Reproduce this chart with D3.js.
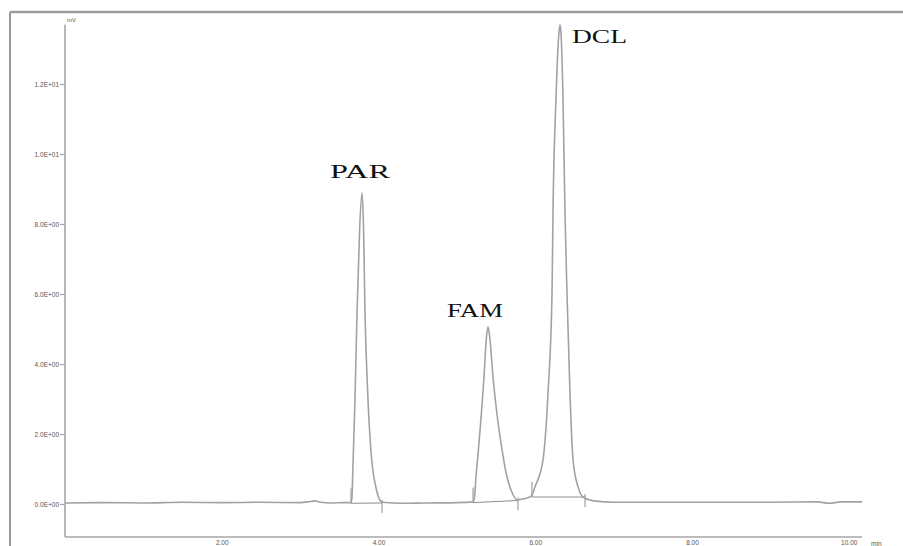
<!DOCTYPE html>
<html>
<head>
<meta charset="utf-8">
<script src="https://cdn.jsdelivr.net/npm/d3@7"></script>
<style>
  html, body { margin: 0; padding: 0; background: #fff; }
  svg { display: block; }
</style>
</head>
<body>
<svg id="chart" width="903" height="546"></svg>
<script>
// ---------- data ----------
const xTicks = [2, 4, 6, 8, 10];
const xTickLabels = ["2.00", "4.00", "6.00", "8.00", "10.00"];
const xUnit = "min";
const yTicks = [0, 2, 4, 6, 8, 10, 12];
const yTickLabels = ["0.0E+00", "2.0E+00", "4.0E+00", "6.0E+00", "8.0E+00", "1.0E+01", "1.2E+01"];
const yUnit = "mV";

// chromatogram trace: [time (min), signal]
const traceTime = [
  0.00, 0.50, 1.00, 1.50, 2.00, 2.50, 3.00, 3.10, 3.18, 3.26, 3.40, 3.55, 3.64,
  3.66, 3.675, 3.70, 3.726, 3.76, 3.79, 3.81, 3.828, 3.86, 3.917, 3.96, 4.00, 4.05,
  4.30, 4.60, 5.00, 5.20,
  5.22, 5.244, 5.282, 5.346, 5.375, 5.397, 5.42, 5.461, 5.51, 5.563, 5.64, 5.70, 5.767,
  5.85, 5.93,
  5.958, 5.997, 6.099, 6.163, 6.214, 6.226, 6.265, 6.30, 6.316, 6.33, 6.354, 6.380, 6.405, 6.443, 6.482, 6.546, 6.609,
  6.75, 7.00, 8.00, 9.00, 9.60, 9.75, 9.90, 10.17
];
const traceSignal = [
  0.03, 0.04, 0.03, 0.05, 0.04, 0.05, 0.04, 0.06, 0.09, 0.05, 0.03, 0.04, 0.04,
  0.15, 1.17, 3.00, 5.46, 7.90, 8.89, 7.80, 5.46, 3.30, 1.17, 0.55, 0.20, 0.05,
  0.02, 0.03, 0.04, 0.06,
  0.12, 0.77, 1.74, 3.63, 4.70, 5.06, 4.75, 3.63, 2.60, 1.74, 0.77, 0.35, 0.12,
  0.15, 0.20,
  0.25, 0.49, 1.26, 3.17, 6.03, 8.26, 11.60, 13.40, 13.69, 13.40, 11.60, 8.26, 6.03, 3.17, 1.26, 0.49, 0.20,
  0.09, 0.05, 0.05, 0.05, 0.06, 0.02, 0.06, 0.06
];

// peaks and their integration start/end
const peakNames = ["PAR", "FAM", "DCL"];
const peakApexTime = [3.79, 5.397, 6.316];
const peakApexSignal = [8.89, 5.06, 13.69];
const peakStartTime = [3.65, 5.206, 5.958];
const peakStartSignal = [0.02, 0.04, 0.20];
const peakEndTime = [4.045, 5.78, 6.635];
const peakEndSignal = [0.03, 0.10, 0.20];

// ---------- layout / style ----------
const W = 903, H = 546;
const xAxisY = 537;
const yAxisTopSignal = 13.69;
const xAxisEndTime = 10.17;
const lineColor = "#a2a2a2";
const axisColor = "#a6a6a6";
const tickTextColor = "#555";

const svg = d3.select("#chart");

const x = d3.scaleLinear().domain([0, 10]).range([65, 848.75]);
const y = d3.scaleLinear().domain([0, 12]).range([504, 84]);

// outer frame (top and left border)
svg.append("line").attr("x1", 10).attr("x2", W).attr("y1", 12).attr("y2", 12)
  .attr("stroke", "#9b9b9b").attr("stroke-width", 2.5);
svg.append("line").attr("x1", 10).attr("x2", 10).attr("y1", 12).attr("y2", H)
  .attr("stroke", "#9b9b9b").attr("stroke-width", 2);

// y axis
const yAxis = d3.axisLeft(y).tickValues(yTicks)
  .tickFormat((d, i) => yTickLabels[i]).tickSize(5).tickPadding(1);
const gy = svg.append("g").attr("transform", `translate(${x(0)},0)`).call(yAxis);
gy.select(".domain").remove();
gy.selectAll(".tick line").attr("stroke", axisColor).attr("stroke-width", 1.2);
gy.selectAll(".tick text").attr("font-family", "Liberation Sans, Arial, sans-serif")
  .attr("font-size", 6.5).attr("fill", tickTextColor);
svg.append("line").attr("x1", x(0)).attr("x2", x(0))
  .attr("y1", y(yAxisTopSignal)).attr("y2", xAxisY)
  .attr("stroke", axisColor).attr("stroke-width", 1.6);
svg.append("text").attr("x", x(0) + 2).attr("y", y(yAxisTopSignal) - 3)
  .attr("font-family", "Liberation Sans, Arial, sans-serif").attr("font-size", 6)
  .attr("fill", tickTextColor).text(yUnit);

// x axis
const xAxis = d3.axisBottom(x).tickValues(xTicks)
  .tickFormat((d, i) => xTickLabels[i]).tickSize(0).tickPadding(3);
const gx = svg.append("g").attr("transform", `translate(0,${xAxisY})`).call(xAxis);
gx.select(".domain").remove();
gx.selectAll(".tick text").attr("font-family", "Liberation Sans, Arial, sans-serif")
  .attr("font-size", 6.5).attr("fill", tickTextColor);
svg.append("line").attr("x1", x(0)).attr("x2", x(xAxisEndTime))
  .attr("y1", xAxisY).attr("y2", xAxisY)
  .attr("stroke", axisColor).attr("stroke-width", 1.6);
svg.append("text").attr("x", x(xAxisEndTime) + 9).attr("y", xAxisY + 9)
  .attr("font-family", "Liberation Sans, Arial, sans-serif").attr("font-size", 6.5)
  .attr("fill", tickTextColor).text(xUnit);

// integration baselines and markers
peakNames.forEach((name, i) => {
  svg.append("line")
    .attr("x1", x(peakStartTime[i])).attr("y1", y(peakStartSignal[i]))
    .attr("x2", x(peakEndTime[i])).attr("y2", y(peakEndSignal[i]))
    .attr("stroke", "#8c8c8c").attr("stroke-width", 1);
  svg.append("line")
    .attr("x1", x(peakStartTime[i])).attr("x2", x(peakStartTime[i]))
    .attr("y1", y(peakStartSignal[i])).attr("y2", y(peakStartSignal[i]) - 15)
    .attr("stroke", "#8c8c8c").attr("stroke-width", 1);
  svg.append("line")
    .attr("x1", x(peakEndTime[i])).attr("x2", x(peakEndTime[i]))
    .attr("y1", y(peakEndSignal[i]) - 3).attr("y2", y(peakEndSignal[i]) + 10)
    .attr("stroke", "#8c8c8c").attr("stroke-width", 1);
});

// trace
const trace = traceTime.map((t, i) => [t, traceSignal[i]]);
svg.append("path")
  .datum(trace)
  .attr("fill", "none")
  .attr("stroke", lineColor)
  .attr("stroke-width", 1.6)
  .attr("d", d3.line().x(d => x(d[0])).y(d => y(d[1])).curve(d3.curveMonotoneX));

// peak labels
const labelDx = [-32, -41, 12];
const labelDy = [-15, -10, 18];
const labelW = [60, 56, 55];
peakNames.forEach((name, i) => {
  svg.append("text")
    .attr("x", x(peakApexTime[i]) + labelDx[i])
    .attr("y", y(peakApexSignal[i]) + labelDy[i])
    .attr("font-family", "Liberation Serif, Times New Roman, serif")
    .attr("font-size", 19)
    .attr("textLength", labelW[i])
    .attr("lengthAdjust", "spacingAndGlyphs")
    .attr("fill", "#111")
    .text(name);
});
</script>
</body>
</html>
